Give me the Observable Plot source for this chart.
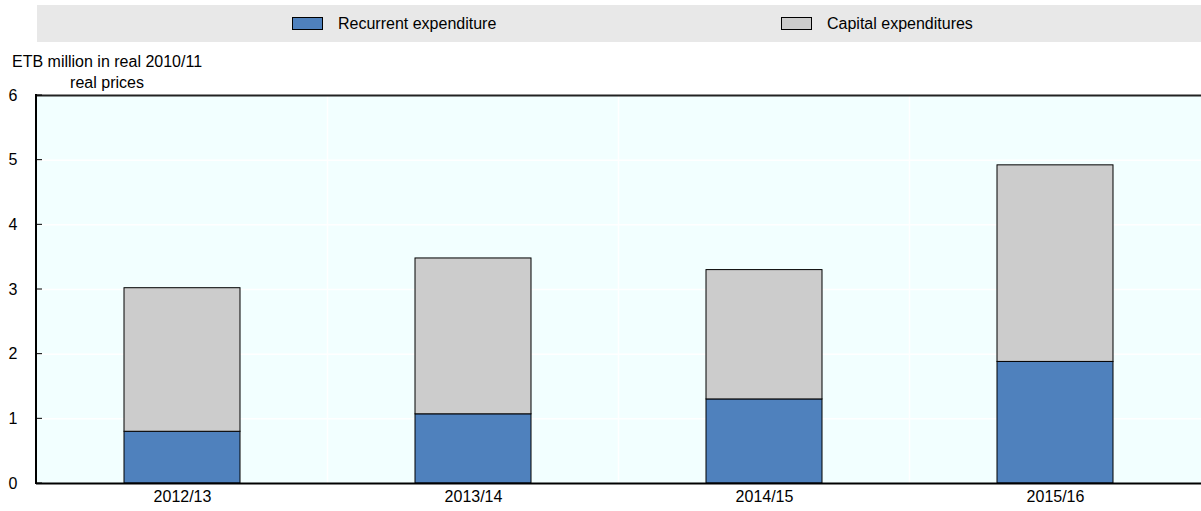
<!DOCTYPE html>
<html>
<head>
<meta charset="utf-8">
<script src="https://cdn.jsdelivr.net/npm/d3@7"></script>
<script src="https://cdn.jsdelivr.net/npm/@observablehq/plot@0.6"></script>
<style>
  html, body { margin: 0; padding: 0; background: #fff; overflow: hidden; }
  body { font-family: "Liberation Sans", Arial, sans-serif; }
  #wrap { position: relative; width: 1201px; height: 511px; }
  #legend { position: absolute; left: 37px; top: 5px; width: 1164px; height: 37px; background: #e8e8e8; }
  .item { position: absolute; top: 0; height: 37px; display: flex; align-items: center; font-size: 16px; color: #000; }
  .sw { width: 29px; height: 11px; border: 1px solid #000; margin-right: 15px; }
  #ytitle { position: absolute; left: 12px; top: 51px; font-size: 16px; line-height: 21px; color: #000; text-align: center; }
  #chart { position: absolute; left: 0; top: 0; }
  #chart svg text { font-size: 16px; }
</style>
</head>
<body>
<div id="wrap">
  <div id="chart"></div>
  <div id="legend"></div>
  <div id="ytitle"></div>
</div>
<script>
const years = ["2012/13", "2013/14", "2014/15", "2015/16"];
const recurrent = [0.80, 1.07, 1.30, 1.88];
const capital = [2.22, 2.41, 2.00, 3.04];
const seriesNames = ["Recurrent expenditure", "Capital expenditures"];
const seriesColors = ["#4f81bd", "#cccccc"];
const yTicks = [0, 1, 2, 3, 4, 5, 6];
const yTitleLines = ["ETB million in real 2010/11", "real prices"];

const data = [];
years.forEach((y, i) => {
  data.push({year: y, series: seriesNames[0], value: recurrent[i]});
  data.push({year: y, series: seriesNames[1], value: capital[i]});
});

const legend = document.getElementById("legend");
const legendLeft = [255, 744];
seriesNames.forEach((name, i) => {
  const it = document.createElement("div");
  it.className = "item";
  it.style.left = legendLeft[i] + "px";
  const sw = document.createElement("div");
  sw.className = "sw";
  sw.style.background = seriesColors[i];
  const tx = document.createElement("span");
  tx.textContent = name;
  it.appendChild(sw); it.appendChild(tx);
  legend.appendChild(it);
});

const yt = document.getElementById("ytitle");
yt.innerHTML = yTitleLines.map(s => `<div>${s}</div>`).join("");

function background(index, scales, values, dimensions) {
  const {marginLeft, marginRight, marginTop, marginBottom, width, height} = dimensions;
  return d3.create("svg:rect")
    .attr("x", marginLeft).attr("y", marginTop)
    .attr("width", width - marginLeft - marginRight)
    .attr("height", height - marginTop - marginBottom)
    .attr("fill", "#f2ffff").node();
}

function bandSeparators(index, scales, values, dimensions) {
  const x = scales.x;
  const g = d3.create("svg:g");
  for (let i = 1; i < years.length; i++) {
    const a = x(years[i - 1]), b = x(years[i]);
    const bw = typeof x.bandwidth === "function" ? x.bandwidth() : (x.bandwidth || 0);
    const pos = (a + bw + b) / 2;
    g.append("line")
      .attr("x1", pos).attr("x2", pos)
      .attr("y1", dimensions.marginTop)
      .attr("y2", dimensions.height - dimensions.marginBottom)
      .attr("stroke", "#ffffff").attr("stroke-width", 1.5);
  }
  return g.node();
}

function leftAxis(index, scales, values, dimensions) {
  const y = scales.y;
  const g = d3.create("svg:g");
  const x0 = dimensions.marginLeft;
  g.append("line")
    .attr("x1", x0).attr("x2", x0)
    .attr("y1", dimensions.marginTop - 1)
    .attr("y2", dimensions.height - dimensions.marginBottom + 1)
    .attr("stroke", "#000").attr("stroke-width", 2);
  yTicks.forEach(t => {
    g.append("line")
      .attr("x1", x0).attr("x2", x0 + 6)
      .attr("y1", y(t)).attr("y2", y(t))
      .attr("stroke", "#000").attr("stroke-width", 1);
  });
  return g.node();
}

const plot = Plot.plot({
  width: 1201,
  height: 511,
  marginTop: 95,
  marginBottom: 28,
  marginLeft: 36,
  marginRight: 0,
  style: {fontFamily: "'Liberation Sans', Arial, sans-serif", fontSize: "16px", color: "#000", background: "transparent"},
  x: {domain: years, paddingInner: 0.6, paddingOuter: 0.3, label: null},
  y: {domain: [0, 6], label: null},
  color: {domain: seriesNames, range: seriesColors},
  marks: [
    background,
    Plot.ruleY([1, 2, 3, 4, 5], {stroke: "#ffffff", strokeWidth: 1.5}),
    bandSeparators,
    Plot.barY(data, {x: "year", y: "value", fill: "series", stroke: "#000", strokeWidth: 1, order: seriesNames}),
    Plot.axisY({ticks: yTicks, tickSize: 0, tickPadding: 19, tickFormat: d => d, fontSize: 16, label: null}),
    Plot.axisX({tickSize: 0, tickPadding: 7, fontSize: 16, label: null}),
    Plot.ruleY([6], {stroke: "#222", strokeWidth: 2}),
    Plot.ruleY([0], {stroke: "#000", strokeWidth: 2}),
    leftAxis
  ]
});
document.getElementById("chart").appendChild(plot);
</script>
</body>
</html>
